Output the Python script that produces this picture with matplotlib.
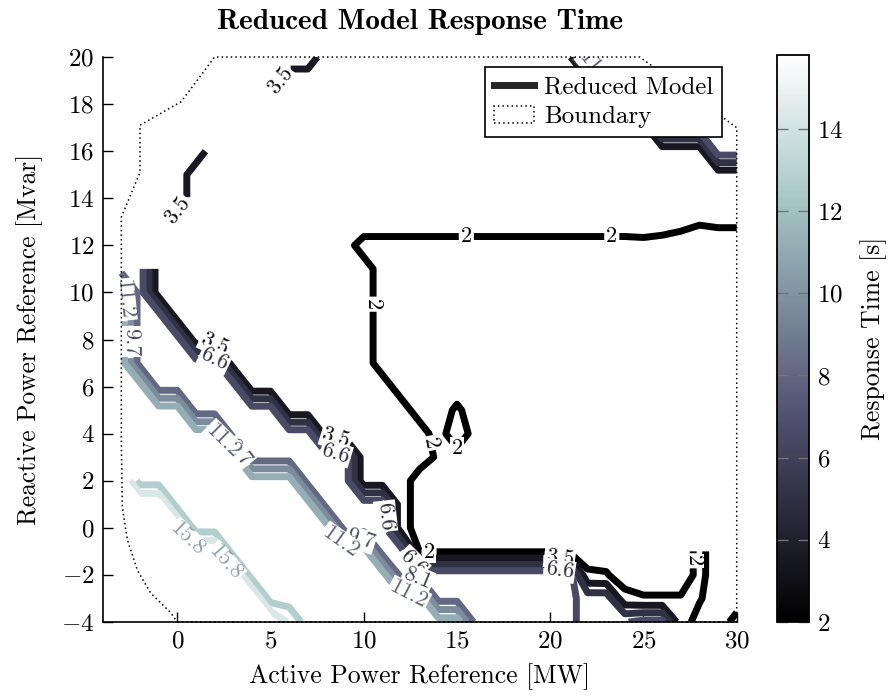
import numpy as np
import matplotlib
matplotlib.use("Agg")
import matplotlib.pyplot as plt
from matplotlib.colors import Normalize
from matplotlib.patches import Polygon
from matplotlib.lines import Line2D
from matplotlib import cm

plt.rcParams.update({
    "font.family": "cmr10",
    "mathtext.fontset": "cm",
    "axes.formatter.use_mathtext": True,
    "axes.unicode_minus": True,
})

nan = np.nan

# operating grid
active_power = np.arange(-4, 31)      # MW
reactive_power = np.arange(-4, 21)    # Mvar

# response time [s] of the reduced model, one row per reactive power (-4 ... 20 Mvar)
response_time = np.array([
    [nan, nan, nan, nan, 16.2, 16.2, 16.2, 16.2, 16.2, 16.2, 14.0, 12.0, 12.0, 12.0, 12.0, 12.0, 12.0, 12.0, 12.0, 12.0, 7.6, 7.6, 7.6, 7.6, 7.6, 7.0, 6.0, 6.0, 6.5, 7.0, 7.0, 2.5, 1.6, 1.4, 2.4],
    [nan, nan, nan, 16.2, 16.2, 16.2, 16.2, 16.2, 16.2, 12.0, 12.0, 12.0, 12.0, 12.0, 12.0, 12.0, 12.0, 12.0, 7.6, 7.6, 7.6, 7.6, 7.6, 7.6, 7.6, 7.0, 6.0, 6.0, 2.4, 2.1, 2.1, 2.1, 2.1, 1.4, 1.4],
    [nan, nan, 16.2, 16.2, 16.2, 16.2, 16.2, 16.2, 12.0, 12.0, 12.0, 12.0, 12.0, 12.0, 12.0, 12.0, 7.6, 7.6, 7.6, 7.6, 7.6, 7.6, 7.6, 7.6, 7.6, 7.6, 2.2, 2.1, 1.4, 1.4, 1.4, 1.4, 2.3, 1.4, 1.4],
    [nan, nan, 16.2, 16.2, 16.2, 16.2, 16.2, 12.0, 12.0, 12.0, 12.0, 12.0, 12.0, 12.0, 12.0, 7.4, 7.4, 1.9, 1.9, 1.9, 1.9, 1.9, 1.9, 1.9, 1.9, 1.9, 1.4, 1.4, 1.4, 1.4, 1.4, 1.4, 2.3, 1.4, 1.4],
    [nan, nan, 16.2, 16.2, 16.2, 12.0, 12.0, 12.0, 12.0, 12.0, 12.0, 12.0, 12.0, 7.4, 7.4, 7.4, 2.6, 1.4, 1.4, 1.4, 1.4, 1.4, 1.4, 1.4, 1.4, 1.4, 1.4, 1.4, 1.4, 1.4, 1.4, 1.4, nan, 1.4, 1.4],
    [nan, 16.2, 16.2, 16.2, 12.0, 12.0, 12.0, 12.0, 12.0, 12.0, 12.0, 12.0, 7.4, 7.4, 7.4, 7.4, 2.6, 1.4, 1.4, 1.4, 1.4, 1.4, 1.4, 1.4, 1.4, 1.4, 1.4, 1.4, 1.4, 1.4, 1.4, 1.4, 1.4, 1.4, 1.4],
    [nan, 16.2, 12.0, 12.0, 12.0, 12.0, 12.0, 12.0, 12.0, 12.0, 12.0, 7.4, 7.4, 7.4, 2.6, 2.6, 2.6, 1.4, 1.4, 1.4, 1.4, 1.4, 1.4, 1.4, 1.4, 1.4, 1.4, 1.4, 1.4, 1.4, 1.4, 1.4, 1.4, 1.4, 1.4],
    [nan, nan, 12.0, 12.0, 12.0, 12.0, 12.0, 12.0, 7.4, 7.4, 7.4, 7.4, 7.4, 7.4, 2.6, 2.6, 2.6, 2.6, 1.8, 1.4, 1.4, 1.4, 1.4, 1.4, 1.4, 1.4, 1.4, 1.4, 1.4, 1.4, 1.4, 1.4, 1.4, 1.4, 1.4],
    [nan, 12.0, 12.0, 12.0, 12.0, 12.0, 12.0, 7.4, 7.4, 7.4, 7.4, 7.4, 2.6, 2.6, 2.6, 2.6, 2.6, 2.6, 1.4, 2.9, 1.4, 1.4, 1.4, 1.4, 1.4, 1.4, 1.4, 1.4, 1.4, 1.4, 1.4, 1.4, 1.4, 1.4, 1.4],
    [nan, 12.0, 12.0, 12.0, 12.0, 7.4, 7.4, 7.4, 7.4, 7.4, 2.6, 2.6, 2.6, 2.6, 2.6, 2.6, 2.6, 1.4, 1.4, 2.2, 1.4, 1.4, 1.4, 1.4, 1.4, 1.4, 1.4, 1.4, 1.4, 1.4, 1.4, 1.4, 1.4, 1.4, 1.4],
    [nan, 12.0, 12.0, 7.4, 7.4, 7.4, 7.4, 7.4, 2.6, 2.6, 2.6, 2.6, 2.6, 2.6, 2.6, 2.6, 1.4, 1.4, 1.4, 1.4, 1.4, 1.4, 1.4, 1.4, 1.4, 1.4, 1.4, 1.4, 1.4, 1.4, 1.4, 1.4, 1.4, 1.4, 1.4],
    [nan, 12.0, 7.4, 7.4, 7.4, 7.4, 7.4, 2.6, 2.6, 2.6, 2.6, 2.6, 2.6, 2.6, 2.6, 1.4, 1.4, 1.4, 1.4, 1.4, 1.4, 1.4, 1.4, 1.4, 1.4, 1.4, 1.4, 1.4, 1.4, 1.4, 1.4, 1.4, 1.4, 1.4, 1.4],
    [nan, 12.0, 7.4, 7.4, 7.4, 2.6, 2.6, 2.6, 2.6, 2.6, 2.6, 2.6, 2.6, 2.6, 2.6, 1.4, 1.4, 1.4, 1.4, 1.4, 1.4, 1.4, 1.4, 1.4, 1.4, 1.4, 1.4, 1.4, 1.4, 1.4, 1.4, 1.4, 1.4, 1.4, 1.4],
    [nan, 12.0, 7.4, 7.4, 2.6, 2.6, 2.6, 2.6, 2.6, 2.6, 2.6, 2.6, 2.6, 2.6, 2.6, 1.4, 1.4, 1.4, 1.4, 1.4, 1.4, 1.4, 1.4, 1.4, 1.4, 1.4, 1.4, 1.4, 1.4, 1.4, 1.4, 1.4, 1.4, 1.4, 1.4],
    [nan, 12.0, 7.4, 2.6, 2.6, 2.6, 2.6, 2.6, 2.6, 2.6, 2.6, 2.6, 2.6, 2.6, 2.6, 1.4, 1.4, 1.4, 1.4, 1.4, 1.4, 1.4, 1.4, 1.4, 1.4, 1.4, 1.4, 1.4, 1.4, 1.4, 1.4, 1.4, 1.4, 1.4, 1.4],
    [nan, 7.4, 7.4, 2.6, 2.6, 2.6, 2.6, 2.6, 2.6, 2.6, 2.6, 2.6, 2.6, 2.6, 2.6, 1.4, 1.4, 1.4, 1.4, 1.4, 1.4, 1.4, 1.4, 1.4, 1.4, 1.4, 1.4, 1.4, 1.4, 1.4, 1.4, 1.4, 1.4, 1.4, 1.4],
    [nan, nan, nan, nan, 2.6, 2.6, 2.6, 2.6, 2.6, 2.6, 2.6, 2.6, 2.6, 2.6, 1.4, 1.4, 1.4, 1.4, 1.4, 1.4, 1.4, 1.4, 1.4, 1.4, 1.4, 1.4, 1.4, 1.4, 1.4, 1.4, 1.4, 1.4, 1.4, 1.4, 1.4],
    [nan, 4.5, 4.5, 4.5, 2.6, 2.6, 2.6, 2.6, 2.6, 2.6, 2.6, 2.6, 2.6, 2.6, 3.0, 3.0, 3.0, 3.0, 3.0, 3.0, 3.0, 3.0, 3.0, 3.0, 3.0, 3.0, 3.0, 3.0, 3.0, 3.2, 2.8, 2.4, 2.1, 2.2, 2.2],
    [nan, nan, 4.5, 4.5, 4.5, 2.6, 2.6, 2.6, 2.6, 2.6, 2.6, 2.6, 2.6, 2.6, 2.6, 2.6, 2.6, 2.6, 2.6, 2.6, 2.6, 2.6, 2.6, 2.6, 2.6, 2.6, 2.6, 2.6, 2.6, 2.6, 2.6, 2.6, 2.6, 2.6, 2.6],
    [nan, nan, 4.5, 4.5, 4.5, 2.6, 2.6, 2.6, 2.6, 2.6, 2.6, 2.6, 2.6, 2.6, 2.6, 2.6, 2.6, 2.6, 2.6, 2.6, 2.6, 2.6, 2.6, 2.6, 2.6, 2.6, 2.6, 2.6, 2.6, 2.6, 2.6, 2.6, 2.6, 2.6, 2.6],
    [nan, nan, 4.5, 4.5, 4.5, 4.5, 2.6, 2.6, 2.6, 2.6, 2.6, 2.6, 2.6, 2.6, 2.6, 2.6, 2.6, 2.6, 2.6, 2.6, 2.6, 2.6, 2.6, 2.6, 2.6, 2.6, 2.6, 2.6, 2.6, 2.6, 2.6, 2.6, 2.6, 7.4, 7.4],
    [nan, nan, nan, nan, nan, nan, nan, 2.6, 2.6, 2.6, 2.6, 2.6, 2.6, 2.6, 2.6, 2.6, 2.6, 2.6, 2.6, 2.6, 2.6, 2.6, 2.6, 2.6, 2.6, 2.6, 2.6, 2.6, 2.6, 2.6, 7.4, 7.4, 7.4, 7.4, 7.4],
    [nan, nan, nan, nan, nan, nan, nan, nan, nan, 2.6, 2.6, 2.6, 2.6, 2.6, 2.6, 2.6, 2.6, 2.6, 2.6, 2.6, 2.6, 2.6, 2.6, 2.6, 2.6, 2.6, 2.6, 2.6, 12.0, 9.5, 7.4, 7.4, 7.4, nan, nan],
    [nan, nan, nan, nan, nan, 4.5, 4.5, 4.5, 4.5, 4.5, 2.6, 2.6, 2.6, 2.6, 2.6, 2.6, 2.6, 2.6, 2.6, 2.6, 2.6, 2.6, 2.6, 2.6, 2.6, 2.6, 2.6, 12.0, 12.0, 12.0, 12.0, nan, nan, nan, nan],
    [nan, nan, nan, nan, nan, nan, 4.5, 4.5, 4.5, 4.5, 4.5, 4.5, 2.6, 2.6, 2.6, 2.6, 2.6, 2.6, 2.6, 2.6, 2.6, 2.6, 2.6, 2.6, 2.6, 2.6, 12.0, 12.0, 12.0, nan, nan, nan, nan, nan, nan],
])

# contour levels [s]
levels = [2.0, 3.53, 5.07, 6.6, 8.13, 9.67, 11.2, 12.73, 14.27, 15.8]

# simulated operating boundary
boundary_p = [0.0, 30.0, 30.0, 24.8, 2.0, 1.25, 0.2, -2.0, -2.0, -3.0, -3.0,
              -2.95, -2.68, -2.14, -1.43, -0.36]
boundary_q = [-4.0, -4.0, 17.0, 20.0, 20.0, 19.2, 18.1, 17.1, 15.1, 13.2, 3.7,
              0.9, -0.5, -1.8, -2.77, -3.6]

# contour label anchors (level index, P, Q)
label_spots = [
    (0, 15.5, 12.4), (0, 23.3, 12.4), (0, 10.5, 9.5), (0, 13.6, 3.6),
    (0, 15.0, 3.4), (0, 13.5, -1.0), (0, 27.67, -1.4),
    (1, 5.5, 19.0), (1, 0.0, 13.5), (1, 2.0, 7.81), (1, 8.5, 3.81), (1, 20.5, -1.28),
    (3, 2.0, 7.17), (3, 8.5, 3.17), (3, 11.17, 0.5), (3, 12.6, -1.5), (3, 20.5, -1.82),
    (4, 12.9, -2.16),
    (5, -2.51, 7.9), (5, 3.7, 3.45), (5, 9.8, -0.45),
    (6, 22.4, 19.5), (6, -2.83, 9.7), (6, 2.3, 3.6), (6, 8.6, -0.7), (6, 12.4, -2.83),
    (9, 0.6, -0.45), (9, 2.6, -1.45),
]

norm = Normalize(vmin=2.0, vmax=15.8)
cmap = plt.get_cmap("bone")

fig = plt.figure(figsize=(8.93, 6.97), dpi=100)
ax = fig.add_axes([0.115, 0.1076, 0.710, 0.8106])

P, Q = np.meshgrid(active_power, reactive_power)
cs = ax.contour(P, Q, np.ma.masked_invalid(response_time), levels=levels,
                cmap=cmap, norm=norm, linewidths=5.0, corner_mask=False)


def fmt(v):
    return f"{v:.1f}".rstrip("0").rstrip(".")


ax.set_xlim(-4, 30)
ax.set_ylim(-4, 20)

# set up label properties, then place each label on its own level
cs.clabel(fmt=fmt, fontsize=16, inline=True, manual=[])
n_lev = len(cs.levels)
for idx, px, py in label_spots:
    cs.labelIndiceList = [idx]
    cs.labelLevelList = [cs.levels[idx]] * n_lev
    cs.labelCValueList = np.full(n_lev, cs.cvalues[idx])
    cs.add_label_near(px, py, inline=True, inline_spacing=2)

for t in cs.labelTexts:
    v = float(t.get_text())
    t.set_color(cmap(0.62 * norm(v)))
    t.set_bbox(dict(boxstyle="square,pad=0.06", fc="white", ec="none"))

boundary = Polygon(np.column_stack([boundary_p, boundary_q]), closed=True,
                   fill=False, ec="black", lw=1.1, ls=(0, (1, 2)),
                   clip_on=False, zorder=5, label="Boundary")
ax.add_patch(boundary)

ax.set_xticks(range(0, 31, 5))
ax.set_yticks(range(-4, 21, 2))
for side in ("top", "right"):
    ax.spines[side].set_visible(False)
for side in ("left", "bottom"):
    ax.spines[side].set_linewidth(1.2)
ax.tick_params(direction="in", length=7, width=1, labelsize=18, pad=6)

ax.set_xlabel("Active Power Reference [MW]", fontsize=18.5, labelpad=8)
ax.set_ylabel("Reactive Power Reference [Mvar]", fontsize=18.3, labelpad=13)
ax.set_title("Reduced Model Response Time", fontsize=21, fontfamily="cmb10", pad=20)

handles = [Line2D([], [], color="#262626", lw=5.0, label="Reduced Model"), boundary]
leg = ax.legend(handles=handles, loc="upper right", bbox_to_anchor=(0.977, 0.982),
                borderaxespad=0, fontsize=18, fancybox=False, framealpha=1,
                edgecolor="black", handlelength=1.6, borderpad=0.35,
                labelspacing=0.3, handletextpad=0.4)
leg.get_frame().set_linewidth(1.2)
leg.set_zorder(10)

cax = fig.add_axes([0.870, 0.1076, 0.0358, 0.8135])
sm = cm.ScalarMappable(norm=norm, cmap=cmap)
cb = fig.colorbar(sm, cax=cax)
cb.set_ticks([2, 4, 6, 8, 10, 12, 14])
cb.outline.set_linewidth(1.3)
cax.tick_params(direction="in", left=True, right=True, length=8, width=1,
                color="0.45", labelsize=18, pad=6)
cb.set_label("Response Time [s]", fontsize=18.5, labelpad=12)

fig.savefig("out.png", dpi=100)
